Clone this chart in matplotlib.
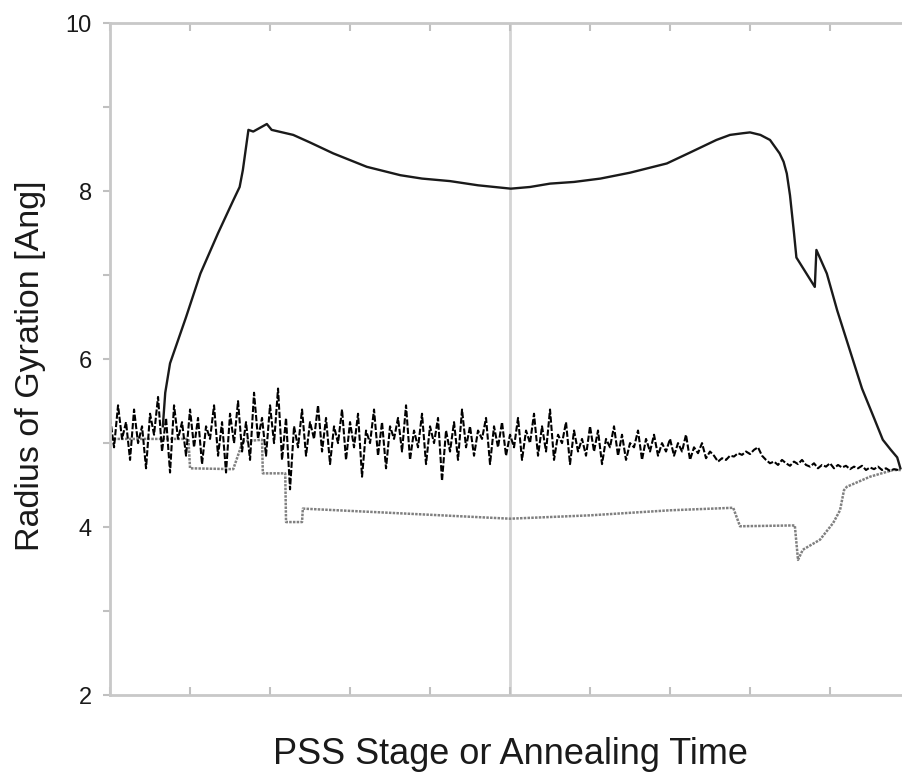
import numpy as np
import matplotlib.pyplot as plt

# solid curve (radius of gyration, PSS run)
curveX = [0.66, 0.69, 0.75, 0.95, 1.13, 1.35, 1.54, 1.62, 1.66, 1.73, 1.79, 1.96,
          2.02, 2.29, 2.50, 2.79, 3.00, 3.21, 3.63, 3.90, 4.25, 4.60, 5.01, 5.25,
          5.50, 5.80, 6.13, 6.50, 6.96, 7.25, 7.58, 7.75, 7.91, 8.00, 8.13, 8.25,
          8.37, 8.42, 8.46, 8.50, 8.55, 8.58, 8.81, 8.83, 8.96, 9.09, 9.25, 9.40,
          9.55, 9.66, 9.76, 9.84, 9.88]
curveY = [5.20, 5.60, 5.95, 6.50, 7.02, 7.50, 7.89, 8.05, 8.25, 8.73, 8.71, 8.80,
          8.73, 8.67, 8.58, 8.45, 8.37, 8.29, 8.19, 8.15, 8.12, 8.07, 8.03, 8.05,
          8.09, 8.11, 8.15, 8.22, 8.33, 8.46, 8.61, 8.67, 8.69, 8.70, 8.67, 8.61,
          8.45, 8.35, 8.21, 7.95, 7.50, 7.21, 6.86, 7.30, 7.02, 6.58, 6.10, 5.65,
          5.30, 5.04, 4.92, 4.83, 4.70]

# noisy series (annealing), sampled every 0.05
noisyY = [
    5.30, 4.95, 5.45, 5.05, 5.25, 4.80, 5.40, 5.00, 5.20, 4.70, 5.35, 5.10, 5.55, 4.90, 5.30, 4.65, 5.45, 5.05, 5.25, 4.85, 5.40,
    4.95, 5.30, 4.75, 5.20, 5.05, 5.45, 4.85, 5.25, 4.65, 5.35, 5.00, 5.50, 4.90, 5.25, 4.80, 5.60, 5.05, 5.30, 4.85, 5.45,
    5.00, 5.65, 4.80, 5.30, 4.45, 5.20, 4.95, 5.40, 4.85, 5.25, 5.05, 5.45, 4.90, 5.30, 4.75, 5.20, 5.00, 5.40, 4.80, 5.25,
    4.95, 5.35, 4.60, 5.15, 5.00, 5.40, 4.85, 5.25, 4.70, 5.20, 5.05, 5.30, 4.90, 5.45, 4.80, 5.15, 4.95, 5.35, 4.75, 5.20,
    5.00, 5.30, 4.55, 5.15, 4.90, 5.25, 4.80, 5.40, 4.95, 5.20, 4.85, 5.15, 5.05, 5.30, 4.75, 5.20, 4.95, 5.25, 4.85, 5.10,
    4.95, 5.30, 4.80, 5.15, 5.00, 5.35, 4.85, 5.20, 4.90, 5.40, 4.80, 5.10, 5.00, 5.25, 4.75, 5.15, 4.90, 5.05, 4.85, 5.20,
    4.90, 5.15, 4.75, 5.05, 4.95, 5.20, 4.85, 5.10, 4.80, 5.00, 4.95, 5.15, 4.80, 5.05, 4.90, 5.10, 4.85, 5.00, 4.90, 5.05,
    4.85, 5.00, 4.90, 5.10, 4.80, 4.95, 4.88, 5.00, 4.82, 4.90, 4.85, 4.78, 4.82, 4.80, 4.85, 4.84, 4.88, 4.86, 4.90, 4.87,
    4.92, 4.95, 4.85, 4.80, 4.76, 4.78, 4.74, 4.80, 4.76, 4.73, 4.78, 4.75, 4.80, 4.74, 4.72, 4.76, 4.70, 4.74, 4.72,
    4.76, 4.70, 4.74, 4.71, 4.73, 4.69, 4.72, 4.70, 4.73, 4.68, 4.71, 4.69, 4.72, 4.68, 4.70, 4.67, 4.69, 4.68,
]
noisyX = np.arange(len(noisyY)) * 0.05

# gray step series
stepX = [0.0, 0.98, 1.0, 1.54, 1.66, 1.90, 1.91, 2.19, 2.20, 2.40, 2.41, 3.50,
         5.00, 6.00, 7.00, 7.79, 7.875, 8.56, 8.60, 8.66, 8.875, 9.04, 9.125,
         9.175, 9.21, 9.50, 9.79, 9.90]
stepY = [5.05, 5.05, 4.70, 4.69, 5.02, 5.04, 4.64, 4.64, 4.06, 4.06, 4.22, 4.17,
         4.10, 4.14, 4.20, 4.23, 4.01, 4.02, 3.61, 3.73, 3.85, 4.05, 4.20,
         4.44, 4.48, 4.60, 4.68, 4.68]

plt.rcParams['font.family'] = ['Liberation Sans', 'DejaVu Sans']

fig = plt.figure(figsize=(9.02, 7.74), dpi=100)
ax = fig.add_axes([0.122, 0.102, 0.878, 0.868])

ax.axvline(5.0, color='#d4d4d4', lw=2, zorder=0)
ax.plot(stepX, stepY, color='#808080', lw=1.8, linestyle=(0, (1, 0.5)))
ax.plot(noisyX, noisyY, color='black', lw=1.5, linestyle=(0, (3, 1)))
ax.plot(curveX, curveY, color='#1a1a1a', lw=1.7)

ax.set_xlim(0, 9.9)
ax.set_ylim(2, 10)
ax.set_xticks(np.arange(0, 10, 1))
ax.set_xticklabels([])
ax.set_yticks([2, 4, 6, 8, 10])
ax.set_yticks([3, 5, 7, 9], minor=True)
ax.tick_params(axis='x', direction='in', top=True, length=6, color='#c0c0c0', width=1.5)
ax.tick_params(axis='y', which='both', direction='out', length=5, color='#c0c0c0',
               width=1.5, labelsize=17, labelcolor='#1a1a1a', pad=8)

for side in ['left', 'bottom', 'top']:
    ax.spines[side].set_color('#c8c8c8')
    ax.spines[side].set_linewidth(2)
ax.spines['right'].set_visible(False)

fig.text(0.566, 0.025, 'PSS Stage or Annealing Time', ha='center', va='center',
         fontsize=26, color='#1a1a1a')
fig.text(0.034, 0.527, 'Radius of Gyration [Ang]', ha='center', va='center',
         rotation=90, fontsize=24.5, color='#1a1a1a')

fig.savefig('out.png', dpi=100)
